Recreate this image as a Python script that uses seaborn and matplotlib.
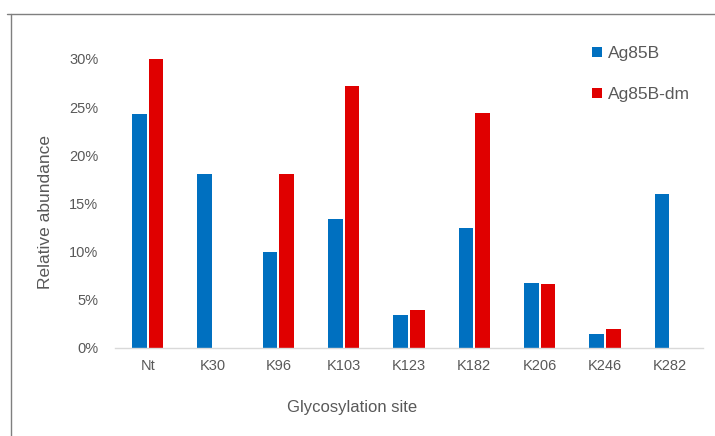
import pandas as pd
import matplotlib
matplotlib.use("Agg")
import matplotlib.pyplot as plt
import seaborn as sns
from matplotlib.lines import Line2D
from matplotlib.ticker import PercentFormatter

# Relative abundance per glycosylation site (fraction)
sites = ["Nt", "K30", "K96", "K103", "K123", "K182", "K206", "K246", "K282"]
ag85b = [0.243, 0.181, 0.100, 0.134, 0.034, 0.124, 0.067, 0.014, 0.160]
ag85b_dm = [0.300, 0.0, 0.180, 0.272, 0.039, 0.244, 0.066, 0.020, 0.0]
series = ["Ag85B", "Ag85B-dm"]
colors = ["#0070C0", "#E00000"]

df = pd.DataFrame({
    "site": sites * 2,
    "value": ag85b + ag85b_dm,
    "protein": [series[0]] * len(sites) + [series[1]] * len(sites),
})

sns.set_style("white")
plt.rcParams["font.family"] = ["Liberation Sans", "DejaVu Sans"]
grey = "#595959"

fig = plt.figure(figsize=(7.15, 4.36), dpi=100)
ax = fig.add_axes([0.161, 0.202, 0.822, 0.663])

sns.barplot(data=df, x="site", y="value", hue="protein", order=sites,
            hue_order=series, palette=colors, saturation=1, width=0.51,
            gap=0.12, linewidth=0, ax=ax)

ax.set_ylim(0, 0.30)
ax.set_yticks([0, 0.05, 0.10, 0.15, 0.20, 0.25, 0.30])
ax.yaxis.set_major_formatter(PercentFormatter(1.0, decimals=0))
ax.set_xlim(-0.5, len(sites) - 0.5)
ax.tick_params(axis="both", length=0, labelsize=10.5, colors=grey)
ax.tick_params(axis="y", pad=12)
ax.tick_params(axis="x", pad=8)

for side in ["top", "right", "left"]:
    ax.spines[side].set_visible(False)
ax.spines["bottom"].set_color("#d9d9d9")
ax.spines["bottom"].set_linewidth(1)

ax.set_ylabel("Relative abundance", fontsize=12.5, color=grey)
ax.yaxis.set_label_coords(-0.119, 0.47)
ax.set_xlabel("Glycosylation site", fontsize=12, color=grey)
ax.xaxis.set_label_coords(0.403, -0.207)
ax.xaxis.label.set_va("center")
ax.yaxis.label.set_va("center")

leg = ax.legend(loc="upper left", bbox_to_anchor=(0.785, 1.098), frameon=False,
                fontsize=12.5, handlelength=0.55, handleheight=0.55,
                handletextpad=0.35, labelspacing=1.5)
for t in leg.get_texts():
    t.set_color(grey)

# figure frame lines (top and left)
fig.add_artist(Line2D([0.010, 1.0], [1 - 14 / 436, 1 - 14 / 436],
                      color="#7f7f7f", linewidth=1, transform=fig.transFigure))
fig.add_artist(Line2D([10.5 / 715, 10.5 / 715], [0, 1 - 14 / 436],
                      color="#7f7f7f", linewidth=1, transform=fig.transFigure))

fig.savefig("out.png", dpi=100)
